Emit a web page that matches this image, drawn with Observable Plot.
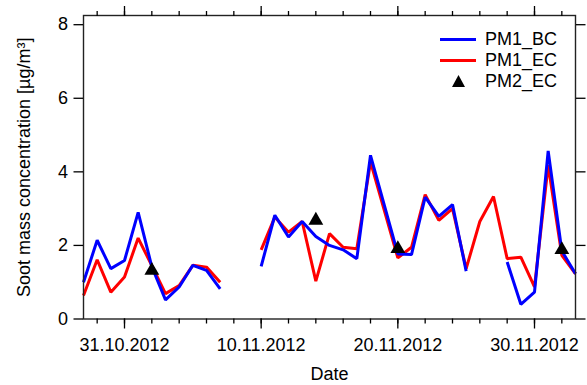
<!DOCTYPE html>
<html>
<head>
<meta charset="utf-8">
<script src="https://cdn.jsdelivr.net/npm/d3@7"></script>
<script src="https://cdn.jsdelivr.net/npm/@observablehq/plot@0.6"></script>
<style>
  body { margin: 0; background: #fff; }
  #wrap { position: relative; width: 587px; height: 385px; font-family: "Liberation Sans", Arial, sans-serif; }
  .lg { position: absolute; left: 440px; font-size: 18px; line-height: 21px; height: 21px; color: #000; display: flex; align-items: center; }
  .sw { width: 36px; height: 3px; margin-right: 9px; }
  .tri { width: 36px; margin-right: 9px; display: flex; justify-content: center; }
</style>
</head>
<body>
<div id="wrap"></div>
<script>
// ---- data ----
const dates = [
  "2012-10-28","2012-10-29","2012-10-30","2012-10-31","2012-11-01","2012-11-02","2012-11-03",
  "2012-11-04","2012-11-05","2012-11-06","2012-11-07","2012-11-08","2012-11-09","2012-11-10",
  "2012-11-11","2012-11-12","2012-11-13","2012-11-14","2012-11-15","2012-11-16","2012-11-17",
  "2012-11-18","2012-11-20","2012-11-21","2012-11-22","2012-11-23","2012-11-24","2012-11-25",
  "2012-11-26","2012-11-27","2012-11-28","2012-11-29","2012-11-30","2012-12-01","2012-12-02","2012-12-03"
];
const pm1BC = [
  1.00, 2.14, 1.37, 1.59, 2.90, 1.42, 0.52,
  0.87, 1.46, 1.32, 0.82, null, null, 1.43,
  2.82, 2.23, 2.65, 2.24, 2.00, 1.88, 1.64,
  4.45, 1.77, 1.75, 3.31, 2.79, 3.11, 1.30,
  null, null, 1.55, 0.40, 0.73, 4.57, 1.85, 1.23
];
const pm1EC = [
  0.64, 1.61, 0.73, 1.14, 2.20, 1.45, 0.69,
  0.91, 1.46, 1.41, 1.00, null, null, 1.88,
  2.77, 2.36, 2.65, 1.03, 2.32, 1.95, 1.91,
  4.27, 1.66, 1.95, 3.38, 2.68, 3.00, 1.37,
  2.65, 3.33, 1.64, 1.68, 0.87, 4.18, 1.73, 1.23
];
const pm2Dates = ["2012-11-02","2012-11-14","2012-11-20","2012-12-02"];
const pm2EC = [1.32, 2.68, 1.91, 1.88];

const xDomain = ["2012-10-28","2012-12-03"];
const majorTickDates = ["2012-10-31","2012-11-10","2012-11-20","2012-11-30"];
const yTicks = [0, 2, 4, 6, 8];
const yMax = 8.25;
const seriesNames = ["PM1_BC","PM1_EC","PM2_EC"];
const seriesColors = ["#0000ff","#ff0000","#000000"];
const xLabel = "Date";
const yLabel = "Soot mass concentration [µg/m³]";

// ---- build ----
const parse = d3.utcParse("%Y-%m-%d");
const fmt = d3.utcFormat("%d.%m.%Y");
const lineData = dates.map((d, i) => ({date: parse(d), bc: pm1BC[i], ec: pm1EC[i]}));
const triData = pm2Dates.map((d, i) => ({date: parse(d), v: pm2EC[i]}));
const majorTicks = majorTickDates.map(parse);
const minorTicks = d3.range(18).map(k => d3.utcDay.offset(parse("2012-10-29"), 2 * k));
const blank = () => "";

const chart = Plot.plot({
  width: 587,
  height: 385,
  marginLeft: 83,
  marginRight: 12,
  marginTop: 15,
  marginBottom: 66.5,
  style: {fontFamily: '"Liberation Sans", Arial, sans-serif', fontSize: "18px", color: "#000", background: "#fff", overflow: "visible"},
  x: {type: "utc", domain: xDomain.map(parse)},
  y: {domain: [0, yMax]},
  marks: [
    Plot.line(lineData, {x: "date", y: "ec", stroke: seriesColors[1], strokeWidth: 3, strokeLinejoin: "miter", strokeLinecap: "butt"}),
    Plot.line(lineData, {x: "date", y: "bc", stroke: seriesColors[0], strokeWidth: 3, strokeLinejoin: "miter", strokeLinecap: "butt"}),
    Plot.dot(triData, {x: "date", y: "v", symbol: "triangle", r: 5.5, fill: seriesColors[2], stroke: "none"}),
    Plot.frame({stroke: "#222", strokeWidth: 1.4}),
    Plot.axisY({ticks: yTicks, tickSize: 9.5, tickPadding: 6, label: null, strokeWidth: 1.3}),
    Plot.axisY({anchor: "right", ticks: yTicks, tickSize: 9.5, tickFormat: blank, label: null, strokeWidth: 1.3}),
    Plot.axisX({ticks: minorTicks, tickSize: 5, tickFormat: blank, label: null, strokeWidth: 1.3}),
    Plot.axisX({ticks: majorTicks, tickSize: 10, tickPadding: 9, tickFormat: fmt, label: null, strokeWidth: 1.3}),
    Plot.axisX({anchor: "top", ticks: minorTicks, tickSize: 5, tickFormat: blank, label: null, strokeWidth: 1.3}),
    Plot.axisX({anchor: "top", ticks: majorTicks, tickSize: 10, tickFormat: blank, label: null, strokeWidth: 1.3}),
    Plot.text([xLabel], {frameAnchor: "bottom", dy: 55, lineAnchor: "middle", fontSize: 18}),
    Plot.text([yLabel], {frameAnchor: "left", dx: -59, rotate: -90, lineAnchor: "middle", textAnchor: "middle", fontSize: 18})
  ]
});

const wrap = document.getElementById("wrap");
wrap.appendChild(chart);

// legend
const rowsY = [39, 60, 81];
seriesNames.forEach((name, i) => {
  const row = document.createElement("div");
  row.className = "lg";
  row.style.top = (rowsY[i] - 10.5) + "px";
  if (i < 2) {
    row.innerHTML = `<div class="sw" style="background:${seriesColors[i]}"></div><span>${name}</span>`;
  } else {
    row.innerHTML = `<div class="tri"><svg width="13" height="12"><path d="M6.5,0L13,12L0,12Z" fill="${seriesColors[i]}"/></svg></div><span>${name}</span>`;
  }
  wrap.appendChild(row);
});
</script>
</body>
</html>
